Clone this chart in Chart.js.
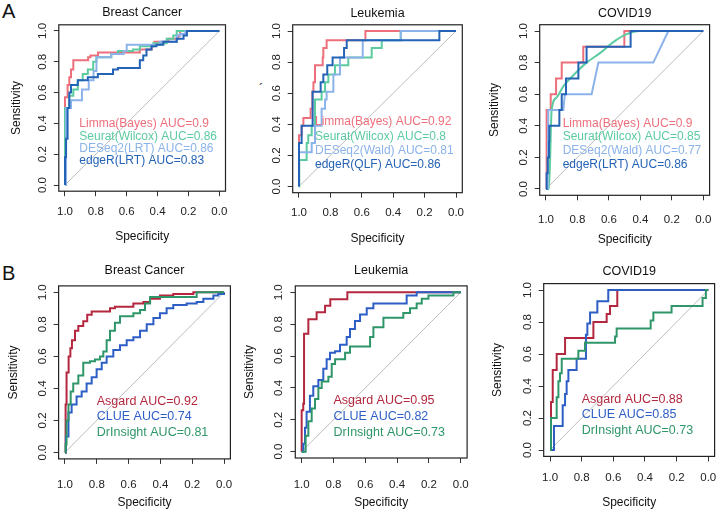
<!DOCTYPE html>
<html lang="en">
  <head>
    <meta charset="UTF-8" />
    <title>ROC curves</title>
    <script src="https://cdn.jsdelivr.net/npm/chart.js"></script>
    <style>
      body {
        margin: 0;
        background: #ffffff;
        font-family: "Liberation Sans", Arial, sans-serif;
      }
      #fig {
        position: relative;
        width: 720px;
        height: 513px;
        overflow: hidden;
      }
      #fig canvas {
        position: absolute;
      }
      .tag {
        position: absolute;
        font-size: 20px;
        line-height: 20px;
        color: #111;
      }
    </style>
  </head>
  <body>
    <div id="fig">
      <span class="tag" style="left: 2px; top: 1px">A</span>
      <span class="tag" style="left: 2px; top: 263px">B</span>
      <span class="tag" style="left: 259px; top: 79px; font-size: 12px">´</span>
    </div>

    <script>
      // ---- data: [specificity, sensitivity] ----
      const tickValues = [0, 0.2, 0.4, 0.6, 0.8, 1.0];
      const chanceLine = [[1, 0], [0, 1]];

      // A - Breast Cancer
      const a1Limma = [[1,0],[1,0.57],[0.983,0.65],[0.972,0.70],[0.961,0.75],[0.946,0.81],[0.85,0.83],[0.835,0.84],[0.786,0.86],[0.515,0.88],[0.44,0.90],[0.42,0.93],[0.33,0.95],[0.265,0.97],[0.254,1],[0,1]];
      const a1Seurat = [[1,0],[1,0.5],[0.972,0.58],[0.946,0.62],[0.917,0.68],[0.885,0.72],[0.852,0.75],[0.817,0.80],[0.796,0.83],[0.70,0.85],[0.657,0.87],[0.559,0.88],[0.515,0.90],[0.428,0.92],[0.341,0.95],[0.298,0.97],[0.276,1],[0,1]];
      const a1Deseq = [[1,0],[0.993,0.5],[0.961,0.55],[0.89,0.62],[0.846,0.68],[0.815,0.74],[0.796,0.83],[0.70,0.85],[0.62,0.87],[0.6,0.91],[0.385,0.93],[0.276,0.97],[0.254,0.98],[0.22,1],[0,1]];
      const a1Edger = [[1,0],[1,0.18],[0.993,0.3],[0.983,0.5],[0.972,0.6],[0.961,0.65],[0.917,0.68],[0.852,0.70],[0.787,0.72],[0.689,0.75],[0.657,0.76],[0.515,0.81],[0.493,0.84],[0.472,0.88],[0.439,0.90],[0.407,0.91],[0.363,0.93],[0.276,0.95],[0.232,0.97],[0.21,1],[0,1]];
      const a1Labels = ["Limma(Bayes) AUC=0.9", "Seurat(Wilcox) AUC=0.86", "DESeq2(LRT) AUC=0.86", "edgeR(LRT) AUC=0.83"];

      // A - Leukemia
      const a2Limma = [[1,0],[1,0.33],[0.983,0.39],[0.972,0.44],[0.926,0.50],[0.915,0.61],[0.908,0.67],[0.898,0.78],[0.849,0.83],[0.845,0.89],[0.824,0.94],[0.577,1],[0,1]];
      const a2Seurat = [[1,0],[0.998,0.17],[0.951,0.28],[0.941,0.33],[0.919,0.39],[0.898,0.56],[0.856,0.61],[0.834,0.67],[0.813,0.72],[0.771,0.78],[0.686,0.83],[0.537,0.89],[0.473,0.94],[0.352,1],[0,1]];
      const a2Deseq = [[1,0],[1,0.22],[0.919,0.28],[0.898,0.39],[0.856,0.5],[0.834,0.56],[0.824,0.61],[0.781,0.72],[0.739,0.83],[0.594,0.94],[0.352,1],[0,1]];
      const a2Edger = [[1,0],[1,0.28],[0.983,0.39],[0.913,0.61],[0.862,0.67],[0.845,0.72],[0.82,0.78],[0.786,0.83],[0.713,0.89],[0.696,0.94],[0.106,1],[0,1]];
      const a2Labels = ["Limma(Bayes) AUC=0.92", "Seurat(Wilcox) AUC=0.8", "DESeq2(Wald) AUC=0.81", "edgeR(QLF) AUC=0.86"];

      // A - COVID19
      const a3Limma = [[1,0],[0.996,0.5],[0.970,0.6],[0.936,0.7],[0.90,0.8],[0.763,0.9],[0.502,1],[0,1]];
      const a3Seurat = [[1,0],[0.981,0],[0.964,0.5],[0.932,0.58],[0.89,0.65],[0.826,0.72],[0.742,0.8],[0.657,0.86],[0.572,0.93],[0.487,0.98],[0.403,1],[0,1]];
      const a3Deseq = [[1,0],[0.99,0],[0.985,0.5],[0.89,0.5],[0.88,0.6],[0.71,0.6],[0.667,0.8],[0.318,0.8],[0.222,1],[0,1]];
      const a3Edger = [[1,0],[0.996,0.1],[0.989,0.2],[0.981,0.3],[0.979,0.4],[0.915,0.5],[0.9,0.6],[0.873,0.7],[0.794,0.8],[0.742,0.9],[0.462,1],[0,1]];
      const a3Labels = ["Limma(Bayes) AUC=0.9", "Seurat(Wilcox) AUC=0.85", "DESeq2(Wald) AUC=0.77", "edgeR(LRT) AUC=0.86"];

      // B - Breast Cancer
      const b1Asgard = [[1,0],[0.996,0.3],[0.99,0.5],[0.977,0.6],[0.966,0.65],[0.956,0.70],[0.937,0.76],[0.916,0.79],[0.885,0.82],[0.86,0.86],[0.832,0.88],[0.738,0.88],[0.717,0.9],[0.686,0.91],[0.612,0.91],[0.57,0.93],[0.507,0.94],[0.465,0.96],[0.403,0.98],[0.319,0.99],[0.193,1],[0,1]];
      const b1Clue = [[1,0],[0.994,0.1],[0.978,0.25],[0.958,0.3],[0.927,0.35],[0.895,0.38],[0.864,0.43],[0.832,0.47],[0.801,0.52],[0.769,0.56],[0.738,0.6],[0.696,0.64],[0.654,0.67],[0.612,0.70],[0.57,0.72],[0.528,0.76],[0.486,0.80],[0.444,0.84],[0.403,0.87],[0.361,0.90],[0.319,0.92],[0.235,0.93],[0.172,0.94],[0.13,0.96],[0.067,0.98],[0.036,0.99],[0,1]];
      const b1Drinsight = [[1,0],[0.996,0.05],[0.99,0.2],[0.978,0.3],[0.964,0.38],[0.948,0.43],[0.916,0.48],[0.885,0.56],[0.843,0.57],[0.811,0.58],[0.78,0.6],[0.759,0.63],[0.738,0.70],[0.717,0.76],[0.686,0.81],[0.654,0.85],[0.57,0.87],[0.528,0.89],[0.497,0.93],[0.465,0.97],[0.172,1],[0,1]];
      const b1Labels = ["Asgard AUC=0.92", "CLUE AUC=0.74", "DrInsight AUC=0.81"];

      // B - Leukemia
      const b2Asgard = [[1,0],[1,0.26],[0.99,0.3],[0.985,0.74],[0.958,0.83],[0.906,0.875],[0.853,0.916],[0.82,0.956],[0.713,1],[0,1]];
      const b2Clue = [[1,0],[0.99,0.05],[0.979,0.15],[0.969,0.25],[0.948,0.35],[0.927,0.41],[0.895,0.45],[0.864,0.52],[0.843,0.58],[0.822,0.62],[0.79,0.63],[0.759,0.67],[0.717,0.72],[0.696,0.77],[0.665,0.82],[0.633,0.86],[0.591,0.90],[0.549,0.93],[0.34,0.98],[0.277,1],[0,1]];
      const b2Drinsight = [[1,0],[0.975,0.1],[0.958,0.19],[0.937,0.27],[0.916,0.33],[0.895,0.40],[0.874,0.44],[0.832,0.47],[0.811,0.55],[0.79,0.58],[0.727,0.62],[0.696,0.66],[0.57,0.72],[0.549,0.78],[0.486,0.84],[0.361,0.87],[0.319,0.90],[0.277,0.93],[0.245,0.96],[0.203,0.98],[0.046,1],[0,1]];
      const b2Labels = ["Asgard AUC=0.95", "CLUE AUC=0.82", "DrInsight AUC=0.73"];

      // B - COVID19
      const b3Asgard = [[1,0],[0.994,0.3],[0.983,0.5],[0.958,0.6],[0.905,0.7],[0.726,0.8],[0.642,0.85],[0.621,0.9],[0.575,1],[0,1]];
      const b3Clue = [[1,0],[0.975,0.15],[0.92,0.28],[0.905,0.35],[0.895,0.43],[0.884,0.5],[0.832,0.57],[0.773,0.72],[0.764,0.79],[0.747,0.86],[0.701,0.93],[0.632,1],[0,1]];
      const b3Drinsight = [[1,0],[0.994,0.2],[0.958,0.33],[0.947,0.43],[0.937,0.48],[0.926,0.57],[0.821,0.62],[0.779,0.67],[0.589,0.71],[0.579,0.76],[0.364,0.81],[0.347,0.86],[0.232,0.9],[0.036,0.95],[0.015,1],[0,1]];
      const b3Labels = ["Asgard AUC=0.88", "CLUE AUC=0.85", "DrInsight AUC=0.73"];

      // ---- styles ----
      const FONT = "'Liberation Sans', Arial, sans-serif";
      const colA = ["#EE6F7C", "#5CCBA0", "#8BB3EA", "#2563B6"];
      const colB = ["#B4283F", "#2D5EC6", "#2F9669"];

      // line shape per series: "step" | "line" | "smooth"
      // box = canvas [left, top, w, h]; frame = plot box [L, T, R, B] in page px
      const panels = [
        { title: "Breast Cancer", box: [0, 0, 240, 250], frame: [58.8, 24.8, 225.5, 191.2], titleY: 12.7, yTitleX: 16.7, xTickY: 212, xTitleY: 236.7,
          series: [a1Limma, a1Seurat, a1Deseq, a1Edger], labels: a1Labels, colors: colA, shape: ["step", "step", "step", "step"], keyAt: [0.907, 0.396], keyGap: 12.2, keySize: 12 },
        { title: "Leukemia", box: [240, 0, 240, 250], frame: [292.7, 24.8, 462.3, 192.7], titleY: 13.3, yTitleX: null, xTickY: 213.3, xTitleY: 238.3,
          series: [a2Limma, a2Seurat, a2Deseq, a2Edger], labels: a2Labels, colors: colA, shape: ["step", "step", "step", "step"], keyAt: [0.898, 0.414], keyGap: 14.3, keySize: 12 },
        { title: "COVID19", box: [480, 0, 240, 250], frame: [539.7, 24.7, 709.6, 195.3], titleY: 13.3, yTitleX: 495, xTickY: 220, xTitleY: 239.3,
          series: [a3Limma, a3Seurat, a3Deseq, a3Edger], labels: a3Labels, colors: colA, shape: ["step", "smooth", "line", "step"], keyAt: [0.894, 0.416], keyGap: 13.9, keySize: 12 },
        { title: "Breast Cancer", box: [0, 250, 240, 263], frame: [58.6, 285.9, 230.4, 458.9], titleY: 271, yTitleX: 13.3, xTickY: 485, xTitleY: 503,
          series: [b1Asgard, b1Clue, b1Drinsight], labels: b1Labels, colors: colB, shape: ["step", "step", "step"], keyAt: [0.8, 0.32], keyGap: 15.5, keySize: 12.5 },
        { title: "Leukemia", box: [240, 250, 240, 263], frame: [295.3, 285.9, 467.1, 458], titleY: 271, yTitleX: 250, xTickY: 485, xTitleY: 503,
          series: [b2Asgard, b2Clue, b2Drinsight], labels: b2Labels, colors: colB, shape: ["step", "step", "step"], keyAt: [0.8, 0.32], keyGap: 16, keySize: 12.5 },
        { title: "COVID19", box: [480, 250, 240, 263], frame: [543.7, 283.6, 714.6, 456.4], titleY: 272, yTitleX: 498, xTickY: 478, xTitleY: 502.3,
          series: [b3Asgard, b3Clue, b3Drinsight], labels: b3Labels, colors: colB, shape: ["step", "step", "step"], keyAt: [0.8, 0.317], keyGap: 15.7, keySize: 12.5 },
      ];

      const TICK_LEN = 5;
      const TICK_FONT = 11.5;

      // frame, titles and AUC text drawn on top of the curves
      const panelDecor = {
        id: "panelDecor",
        afterDatasetsDraw(chart, args, opts) {
          const p = opts.panel;
          const { ctx, chartArea: a, scales } = chart;
          const ox = p.box[0], oy = p.box[1];
          ctx.save();
          ctx.strokeStyle = "#222";
          ctx.lineWidth = 1.2;
          ctx.strokeRect(a.left, a.top, a.right - a.left, a.bottom - a.top);

          ctx.fillStyle = "#111";
          ctx.textAlign = "center";
          ctx.textBaseline = "middle";
          ctx.font = `12.5px ${FONT}`;
          ctx.fillText(p.title, (a.left + a.right) / 2, p.titleY - oy);
          ctx.font = `12px ${FONT}`;
          ctx.fillText("Specificity", (a.left + a.right) / 2, p.xTitleY - oy);
          if (p.yTitleX !== null) {
            ctx.save();
            ctx.translate(p.yTitleX - ox, (a.top + a.bottom) / 2);
            ctx.rotate(-Math.PI / 2);
            ctx.fillText("Sensitivity", 0, 0);
            ctx.restore();
          }

          ctx.textAlign = "left";
          ctx.font = `${p.keySize}px ${FONT}`;
          const kx = scales.x.getPixelForValue(p.keyAt[0]);
          const ky = scales.y.getPixelForValue(p.keyAt[1]);
          p.labels.forEach((txt, i) => {
            ctx.fillStyle = p.colors[i];
            ctx.fillText(txt, kx, ky + i * p.keyGap);
          });
          ctx.restore();
        },
      };

      const fig = document.getElementById("fig");

      panels.forEach((p) => {
        const [cx, cy, cw, ch] = p.box;
        const [L, T, R, B] = p.frame;
        const canvas = document.createElement("canvas");
        canvas.width = cw;
        canvas.height = ch;
        canvas.style.left = cx + "px";
        canvas.style.top = cy + "px";
        fig.appendChild(canvas);

        const n = p.series.length;
        const datasets = p.series.map((pts, i) => ({
          data: pts.map(([s, v]) => ({ x: s, y: v })),
          borderColor: p.colors[i],
          borderWidth: 2,
          pointRadius: 0,
          showLine: true,
          stepped: p.shape[i] === "step" ? "before" : false,
          cubicInterpolationMode: p.shape[i] === "smooth" ? "monotone" : "default",
          order: n - i,
        }));
        datasets.push({
          data: chanceLine.map(([s, v]) => ({ x: s, y: v })),
          borderColor: "#BDBDBD",
          borderWidth: 1,
          pointRadius: 0,
          showLine: true,
          order: 99,
        });

        const tickFont = { family: FONT, size: TICK_FONT };
        const xPad = p.xTickY - B - TICK_LEN - TICK_FONT * 0.6;

        new Chart(canvas, {
          type: "scatter",
          data: { datasets },
          options: {
            responsive: false,
            animation: false,
            events: [],
            layout: {
              autoPadding: false,
              padding: { left: 0, top: T - cy, right: cx + cw - R, bottom: 0 },
            },
            scales: {
              x: {
                type: "linear",
                reverse: true,
                min: -0.04,
                max: 1.04,
                afterBuildTicks: (s) => {
                  s.ticks = tickValues.map((v) => ({ value: v }));
                },
                afterFit: (s) => {
                  s.height = cy + ch - B;
                },
                grid: { drawOnChartArea: false, tickLength: TICK_LEN, color: "#333" },
                border: { display: false },
                ticks: {
                  callback: (v) => Number(v).toFixed(1),
                  font: tickFont,
                  color: "#222",
                  padding: xPad,
                  maxRotation: 0,
                  autoSkip: false,
                },
              },
              y: {
                type: "linear",
                min: -0.04,
                max: 1.04,
                afterBuildTicks: (s) => {
                  s.ticks = tickValues.map((v) => ({ value: v }));
                },
                afterFit: (s) => {
                  s.width = L - cx;
                },
                grid: { drawOnChartArea: false, tickLength: TICK_LEN, color: "#333" },
                border: { display: false },
                ticks: {
                  callback: (v) => Number(v).toFixed(1),
                  font: tickFont,
                  color: "#222",
                  padding: 3,
                  minRotation: 90,
                  maxRotation: 90,
                  crossAlign: "center",
                  autoSkip: false,
                },
              },
            },
            plugins: {
              legend: { display: false },
              tooltip: { enabled: false },
              panelDecor: { panel: p },
            },
          },
          plugins: [panelDecor],
        });
      });
    </script>
  </body>
</html>
